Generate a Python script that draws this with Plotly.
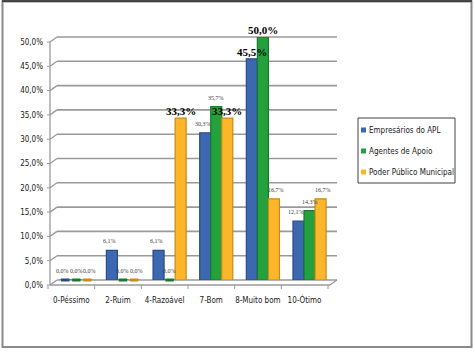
import plotly.graph_objects as go

categories = ["0-Péssimo", "2-Ruim", "4-Razoável", "7-Bom", "8-Muito bom", "10-Ótimo"]
series_names = ["Empresários do APL", "Agentes de Apoio", "Poder Público Municipal"]
empresarios = [0.0, 6.1, 6.1, 30.3, 45.5, 12.1]
agentes = [0.0, 0.0, 0.0, 35.7, 50.0, 14.3]
poder = [0.0, 0.0, 33.3, 33.3, 16.7, 16.7]
bold_emp = [0, 0, 0, 0, 1, 0]
bold_age = [0, 0, 0, 0, 1, 0]
bold_pod = [0, 0, 1, 1, 0, 0]
y_ticks = [0, 5, 10, 15, 20, 25, 30, 35, 40, 45, 50]

fills = ["#3C67B1", "#24A03D", "#FBB62B"]
edges = ["#284C8A", "#177A2B", "#C98B10"]

W_FIG, H_FIG = 475, 352
L, R, T, B = 53, 333, 37, 280
W, H = R - L, B - T
DX, DY = 7, 5
BARGAP = 0.29

def px(x):
    return (x - L) / W

def py(y):
    return (B - y) / H

def yv(v):
    return B - v / 50 * H

fmt = lambda v: f"{v:.1f}".replace(".", ",") + "%"
sans = "DejaVu Sans Condensed, Liberation Sans Narrow, sans-serif"

fig = go.Figure()
values = [empresarios, agentes, poder]
bolds = [bold_emp, bold_age, bold_pod]
for i in range(3):
    fig.add_trace(go.Bar(x=categories, y=values[i], name=series_names[i], offsetgroup=str(i),
                         marker=dict(color=fills[i], line=dict(color=edges[i], width=1.2)),
                         showlegend=False))
# flat discs for zero-valued bars
for i in range(3):
    fig.add_trace(go.Scatter(x=categories, y=[0 if v == 0 else None for v in values[i]],
                             mode="markers", offsetgroup=str(i), cliponaxis=False,
                             marker=dict(symbol="line-ew", size=6, line=dict(color=edges[i], width=3)),
                             showlegend=False, hoverinfo="skip"))

shapes = []
gc = "#9A9A9A"
for v in y_ticks:
    yb = yv(v)
    shapes.append(dict(type="line", xref="paper", yref="paper", x0=px(L - 3), y0=py(yb + DY),
                       x1=px(L + 4), y1=py(yb), line=dict(color=gc, width=1.3), layer="below"))
    shapes.append(dict(type="line", xref="paper", yref="paper", x0=px(L + 4), y0=py(yb),
                       x1=px(R + 4), y1=py(yb), line=dict(color=gc, width=1.6), layer="below"))
    shapes.append(dict(type="line", xref="paper", yref="paper", x0=px(L - 6), y0=py(yb + DY),
                       x1=px(L - 3), y1=py(yb + DY), line=dict(color=gc, width=1)))
shapes.append(dict(type="line", xref="paper", yref="paper", x0=px(L - 3), y0=py(yv(0) + DY),
                   x1=px(L - 3), y1=py(yv(50) + DY), line=dict(color=gc, width=1.3)))
shapes.append(dict(type="line", xref="paper", yref="paper", x0=px(L - 3), y0=py(yv(0) + DY),
                   x1=px(R - 3), y1=py(yv(0) + DY), line=dict(color=gc, width=1.3)))
shapes.append(dict(type="line", xref="paper", yref="paper", x0=px(R - 3), y0=py(yv(0) + DY),
                   x1=px(R + 4), y1=py(yv(0)), line=dict(color=gc, width=1.3)))
cw = W / len(categories)
for k in range(len(categories) + 1):
    xx = L - 5 + k * cw
    shapes.append(dict(type="line", xref="paper", yref="paper", x0=px(xx), y0=py(yv(0) + DY),
                       x1=px(xx), y1=py(yv(0) + DY + 4), line=dict(color=gc, width=1)))

# outer border
shapes.append(dict(type="rect", xref="paper", yref="paper", x0=px(2.5), y0=py(1.5), x1=px(471.5), y1=py(347),
                   line=dict(color="#8A8A8A", width=2)))
shapes.append(dict(type="line", xref="paper", yref="paper", x0=px(2), y0=py(1), x1=px(472), y1=py(1),
                   line=dict(color="#222222", width=1.5)))

annotations = []
bar_px = cw * (1 - BARGAP) / 3
for i in range(3):
    for j, c in enumerate(categories):
        v = values[i][j]
        if bolds[i][j]:
            annotations.append(dict(x=c, y=v, xref="x", yref="y", text="<b>" + fmt(v) + "</b>",
                                    showarrow=False, xshift=(i - 1) * bar_px, yanchor="bottom", yshift=-1,
                                    font=dict(family="Liberation Serif", size=11, color="#000000")))
        else:
            annotations.append(dict(x=c, y=v, xref="x", yref="y", text=fmt(v),
                                    showarrow=False, xshift=(i - 1) * bar_px * 1.22, yanchor="bottom",
                                    yshift=4, font=dict(family="Liberation Serif", size=6, color="#404040")))

shapes.append(dict(type="rect", xref="paper", yref="paper", x0=px(358), y0=py(118), x1=px(455), y1=py(183),
                   line=dict(color="#404040", width=1), fillcolor="white"))
for i in range(3):
    yc = 130 + i * 21
    shapes.append(dict(type="rect", xref="paper", yref="paper", x0=px(361), y0=py(yc - 2.5), x1=px(366),
                       y1=py(yc + 2.5), line=dict(width=0), fillcolor=fills[i]))
    annotations.append(dict(x=px(367), y=py(yc), xref="paper", yref="paper", text=series_names[i],
                            showarrow=False, xanchor="left", yanchor="middle",
                            font=dict(family=sans, size=8, color="#202020")))

fig.update_layout(
    width=W_FIG, height=H_FIG,
    margin=dict(l=L, r=W_FIG - R, t=T, b=H_FIG - B, pad=0),
    paper_bgcolor="white", plot_bgcolor="rgba(0,0,0,0)",
    barmode="group", bargap=BARGAP, bargroupgap=0,
    scattermode="group", scattergap=BARGAP,
    shapes=shapes, annotations=annotations,
    showlegend=False,
    xaxis=dict(showgrid=False, showline=False, ticks="", zeroline=False, tickangle=0,
               tickfont=dict(family=sans, size=8, color="#202020"),
               ticklabelshift=-5, ticklabelstandoff=14),
    yaxis=dict(range=[0, 50], tickvals=y_ticks, ticktext=[fmt(v) for v in y_ticks],
               showgrid=False, showline=False, ticks="", zeroline=False,
               tickfont=dict(family=sans, size=8, color="#202020"),
               ticklabelshift=5, ticklabelstandoff=9),
)

fig.write_html("out.html")
